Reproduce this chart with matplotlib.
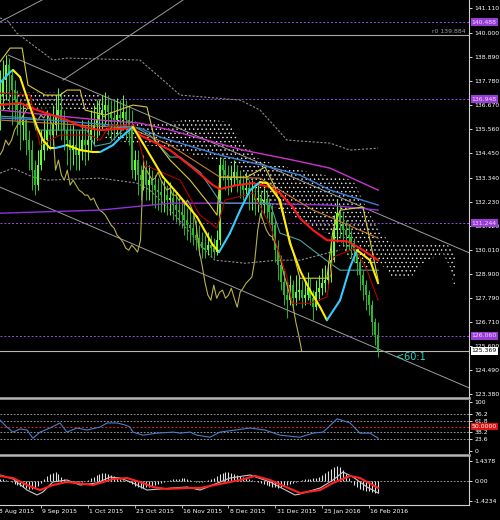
import numpy as np
import matplotlib
matplotlib.use("Agg")
import matplotlib.pyplot as plt
from matplotlib.lines import Line2D
from matplotlib.transforms import blended_transform_factory

# EURJPY daily, bar index 0 = 18 Aug 2015, first drawn bar = 2, last = 131
first_bar = 2
open_first = 136.44

close = [137.13, 137.82, 138.51, 138.05, 137.36,
         136.90, 136.44, 135.75, 135.98,
         135.06, 134.60, 133.68, 132.99,
         133.91, 134.60, 135.06, 135.52,
         135.29, 135.75, 136.21, 136.44,
         135.98, 135.52, 135.06, 134.60,
         134.83, 134.37, 134.60, 135.06, 134.83,
         135.06, 135.52, 135.75, 135.98, 136.21,
         136.44, 136.67, 136.35, 136.07, 135.98,
         136.21, 136.07, 136.35, 135.98, 135.75,
         133.68,
         134.14, 133.45, 133.22, 133.68, 132.99,
         133.22, 132.99, 132.76, 132.67, 132.53,
         132.53, 132.30, 132.39, 132.07, 131.84,
         131.75, 131.61, 131.38, 131.15, 131.01,
         130.69, 130.55, 130.37, 130.09, 130.00,
         130.23, 130.09, 129.91, 130.46,
         133.91,
         133.68, 133.45, 133.22, 133.31, 133.59,
         133.22, 132.99, 132.76, 132.85, 132.53,
         132.53, 132.30, 132.39, 132.07, 132.30,
         132.07, 131.75, 131.15, 130.00, 129.31,
         128.53, 127.93, 127.70, 128.39, 127.79,
         128.07, 128.16, 127.79, 127.93, 128.25,
         127.79, 127.38, 128.07, 128.25, 128.48,
         128.62, 128.76, 129.54, 130.92, 131.70,
         131.29, 130.92, 130.69, 130.60, 130.32,
         130.00, 129.45, 128.85, 128.39, 127.93,
         127.47, 126.69, 126.09, 125.369]

high = [138.28, 138.74, 138.97, 138.83, 138.28,
        137.82, 137.36, 136.90, 136.67,
        135.98, 135.52, 135.06, 134.14,
        134.60, 135.52, 135.98, 136.44,
        136.21, 136.67, 137.13, 137.45,
        137.27, 136.44, 135.98, 135.75,
        135.75, 135.52, 135.52, 135.98, 135.75,
        135.98, 136.44, 136.67, 136.90, 136.90,
        137.13, 137.27, 137.13, 136.90, 136.90,
        136.99, 136.90, 137.13, 136.90, 136.67,
        136.44,
        134.60, 134.60, 133.91, 134.37, 134.14,
        133.91, 133.68, 133.45, 133.31, 133.22,
        133.22, 132.99, 133.13, 132.85, 132.67,
        132.53, 132.39, 132.30, 131.93, 131.84,
        131.61, 131.38, 131.15, 130.83, 130.69,
        130.83, 130.69, 130.55, 130.92,
        134.28,
        134.23, 134.14, 133.91, 133.91, 134.14,
        133.91, 133.68, 133.45, 133.59, 133.22,
        133.22, 132.99, 132.99, 132.76, 132.85,
        132.76, 132.39, 132.07, 131.38, 130.46,
        129.77, 129.08, 128.62, 128.85, 128.62,
        128.85, 128.85, 128.62, 128.62, 128.99,
        128.71, 128.16, 128.62, 128.85, 129.17,
        129.31, 129.45, 130.46, 131.61, 132.30,
        132.07, 131.75, 131.38, 131.15, 130.92,
        130.55, 130.09, 129.63, 129.08, 128.62,
        128.16, 127.70, 126.87, 126.69]

low = [135.52, 136.44, 136.90, 136.44, 135.75,
       135.98, 135.29, 134.60, 135.06,
       134.37, 133.68, 132.76, 132.53,
       132.76, 133.68, 134.14, 134.60,
       134.60, 134.83, 135.29, 135.52,
       135.06, 134.60, 133.91, 133.68,
       133.91, 133.68, 133.68, 134.14, 133.91,
       134.14, 134.60, 134.83, 135.06, 135.29,
       135.52, 135.75, 135.29, 135.06, 135.06,
       135.29, 135.15, 135.52, 135.06, 134.83,
       133.31,
       133.22, 132.53, 132.30, 132.76, 132.30,
       132.30, 132.07, 131.93, 131.84, 131.75,
       131.75, 131.61, 131.61, 131.38, 131.29,
       131.15, 131.01, 130.69, 130.46, 130.37,
       130.23, 130.00, 129.77, 129.63, 129.63,
       129.77, 129.68, 129.63, 129.77,
       130.23,
       133.22, 132.76, 132.53, 132.67, 132.99,
       132.67, 132.39, 132.30, 132.39, 131.84,
       131.84, 131.61, 131.75, 131.47, 131.61,
       131.47, 131.15, 130.46, 129.45, 128.62,
       128.16, 127.47, 126.87, 127.47, 127.33,
       127.47, 127.70, 127.33, 127.47, 127.70,
       127.47, 126.78, 127.24, 127.70, 127.93,
       128.07, 128.25, 128.53, 129.45, 130.46,
       130.55, 130.23, 130.00, 130.00, 129.63,
       129.45, 128.85, 128.16, 127.70, 127.24,
       127.01, 126.09, 125.63, 125.08]

# indicator lines: (bar, price) vertices
fast_ma_x = [2.0, 5.5, 6.5, 8.9, 12.3, 14.7, 16.7, 19.1, 20.8, 24.9,
             29.4, 33.8, 36.2, 40.6, 43.0, 47.4, 50.8, 57.7, 62.5, 69.3,
             74.7, 76.8, 80.5, 84.0, 87.4, 90.8, 93.2, 97.6, 101.0, 104.4,
             107.8, 111.3, 113.6, 118.1, 121.5, 123.9, 128.3, 131.1]
fast_ma_y = [137.68, 138.19, 138.28, 137.96, 136.58, 135.66, 135.06, 134.69, 134.69, 134.83,
             134.60, 134.51, 134.51, 134.83, 135.15, 135.66, 134.92, 133.36, 132.62, 131.52,
             130.23, 129.91, 130.78, 131.84, 132.76, 133.13, 133.08, 132.30, 130.32, 129.08,
             128.16, 127.38, 126.78, 127.70, 129.22, 130.00, 129.54, 128.48]

slow_ma_x = [2.0, 8.9, 14.7, 24.9, 30.4, 36.2, 47.4, 49.8, 60.1, 67.9,
             74.7, 77.1, 82.9, 88.4, 94.2, 97.6, 102.0, 104.4, 108.9, 113.6,
             120.5, 124.9, 131.1]
slow_ma_y = [136.67, 136.76, 136.44, 135.98, 135.66, 135.52, 135.61, 135.29, 134.60, 133.77,
             132.99, 132.81, 132.99, 133.08, 132.90, 132.62, 131.98, 131.47, 130.92, 130.46,
             130.41, 130.09, 129.54]

blue_x = [2.0, 19.1, 36.2, 49.8, 56.7, 77.1, 94.2, 104.4, 114.7, 131.1]
blue_y = [136.07, 135.98, 135.80, 135.61, 135.20, 134.37, 133.82, 133.45, 132.76, 132.07]

magenta_x = [2.0, 19.1, 36.2, 49.8, 60.1, 85.0, 102.0, 114.7, 131.1]
magenta_y = [136.44, 136.21, 135.98, 135.84, 135.52, 134.60, 134.14, 133.77, 132.76]

violet_x = [2.0, 36.2, 60.1, 87.4, 114.7, 131.1]
violet_y = [131.70, 131.84, 132.16, 132.16, 132.07, 131.84]

orange_x = [2.0, 29.4, 46.4, 60.1, 77.1, 90.8, 108.9, 114.7, 131.1]
orange_y = [135.98, 135.75, 135.61, 134.83, 133.36, 133.31, 131.84, 131.52, 130.55]

kijun_x = [2.0, 13.3, 14.3, 31.7, 34.5, 39.6, 44.7, 48.1, 53.2, 60.1,
           63.5, 70.3, 76.1, 77.8, 94.2, 97.6, 104.4, 114.7, 118.1, 131.1]
kijun_y = [136.16, 136.07, 135.52, 135.52, 134.78, 134.92, 135.66, 135.66, 135.29, 134.28,
           134.28, 133.59, 132.44, 132.16, 132.16, 130.78, 130.46, 129.40, 129.08, 129.08]

darkred_x = [2.0, 12.3, 15.7, 22.5, 32.8, 36.2, 39.6, 48.1, 51.5, 63.5,
             70.3, 76.1, 78.8, 88.4, 94.2, 100.0, 101.7, 107.8, 113.6, 115.7,
             123.2, 127.3, 131.1]
darkred_y = [137.22, 137.13, 134.83, 135.29, 135.29, 135.06, 135.75, 135.75, 133.91, 133.22,
             131.61, 131.01, 132.30, 132.62, 131.15, 128.76, 127.56, 127.56, 127.84, 129.68,
             130.09, 129.08, 127.70]

tenkan_x = [2.0, 5.5, 9.6, 11.6, 17.4, 22.5, 24.9, 29.4, 31.1, 37.9,
            47.4, 52.2, 54.9, 60.1, 66.9, 73.7, 76.1, 77.1, 86.3, 92.5,
            95.9, 101.0, 104.4, 113.6, 115.7, 118.1, 125.9, 128.3, 131.1]
tenkan_y = [138.65, 139.29, 139.29, 137.59, 137.13, 137.13, 137.36, 137.36, 136.44, 136.21,
            136.67, 136.58, 135.06, 134.14, 133.22, 132.07, 131.61, 133.36, 133.36, 133.82,
            132.90, 130.46, 128.71, 128.71, 130.92, 131.84, 131.98, 130.46, 128.62]
chikou_shift = 26

env_up_x = [2.0, 4.4, 7.8, 20.1, 24.9, 49.8, 57.7, 63.5, 84.0, 90.8, 100.0, 114.7, 121.5, 131.1]
env_up_y = [140.67, 140.58, 139.98, 138.74, 138.83, 138.74, 137.82, 137.13, 136.90, 136.44,
            135.06, 134.92, 134.60, 134.69]
env_dn_x = [2.0, 6.5, 13.3, 18.1, 36.2, 48.8, 53.2, 61.8, 72.0, 75.4, 85.7, 96.6, 104.4, 113.6, 118.1]
env_dn_y = [133.54, 133.77, 133.36, 133.22, 133.31, 133.08, 132.76, 131.61, 130.00, 129.54,
            129.40, 129.54, 129.54, 129.86, 130.00]

cloud_x = [2.0, 19.1, 36.2, 37.9, 49.8, 60.1, 70.3, 80.5, 84.0, 90.8, 104.4,
           114.7, 122.5, 126.6, 131.7, 136.2, 142.0, 146.4, 153.2, 155.6, 157.3]
cloud_hi = [137.27, 137.27, 137.18, 136.07, 135.89, 135.89, 136.07, 135.89, 135.06, 134.14, 133.68,
            133.40, 133.22, 132.07, 130.78, 130.32, 130.32, 130.32, 130.32, 130.18, 129.77]
cloud_lo = [136.44, 136.53, 136.44, 135.15, 134.83, 134.74, 134.28, 134.05, 133.77, 132.30, 131.38,
            130.69, 129.45, 129.17, 129.45, 128.71, 128.71, 129.40, 129.86, 129.22, 128.16]

chan_up_x, chan_up_y = [4.8, 162.5], [138.97, 129.86]
chan_dn_x, chan_dn_y = [2.0, 162.5], [132.90, 123.65]
fan1_x, fan1_y = [23.5, 64.5], [137.82, 141.50]
fan2_x, fan2_y = [2.0, 16.4], [140.49, 141.50]

levels = [140.488, 136.948, 131.244, 126.060]
r0_level = 139.884
last_price = 125.369
price_ticks = [141.110, 140.000, 138.890, 137.780, 136.670, 135.560, 134.450, 133.340,
               132.230, 131.120, 130.010, 128.900, 127.790, 126.710, 125.600, 124.490, 123.380]

rsi_x = [2.0, 4.4, 6.5, 8.9, 11.3, 13.3, 15.7, 19.1, 22.5, 24.9,
         28.3, 31.7, 36.2, 38.6, 42.0, 44.7, 46.4, 47.4, 50.8, 55.6,
         61.1, 63.5, 66.9, 69.3, 73.7, 77.1, 82.3, 87.4, 92.5, 97.6,
         104.4, 108.9, 112.3, 117.1, 121.5, 124.9, 128.3, 131.1]
rsi_y = [63.8, 48.9, 38.3, 45.0, 42.6, 25.5, 38.3, 46.8, 57.4, 38.3,
         46.8, 42.6, 48.9, 57.4, 57.4, 53.2, 48.9, 38.3, 31.9, 36.2,
         38.3, 36.2, 38.3, 31.9, 27.7, 38.3, 42.6, 46.8, 42.6, 31.9,
         27.7, 36.2, 38.3, 66.0, 57.4, 36.2, 36.2, 25.5]
rsi_levels = [76.2, 61.8, 38.2, 23.6]
rsi_ticks = [100, 76.2, 61.8, 38.2, 23.6, 0]

macd_x = [2.0, 6.5, 11.3, 14.7, 16.7, 20.1, 24.9, 29.4, 35.2, 39.6,
          43.0, 47.4, 52.2, 56.7, 61.1, 65.9, 70.3, 80.5, 87.4, 94.2,
          102.7, 104.4, 111.3, 115.7, 119.1, 122.5, 127.3, 131.1]
macd_y = [0.41, 0.12, -0.67, -1.02, -0.81, -0.09, 0.05, -0.31, -0.16, 0.26,
          0.19, -0.16, -0.67, -0.59, -0.52, -0.45, -0.67, 0.19, 0.41, -0.09,
          -1.02, -0.95, -0.52, 0.05, 0.62, 0.26, -0.45, -0.88]
signal_x = [2.0, 6.5, 11.3, 15.7, 20.1, 24.9, 33.8, 40.6, 45.4, 49.8,
            54.3, 59.0, 65.9, 70.3, 84.0, 89.1, 94.2, 104.4, 111.3, 115.7,
            121.5, 124.9, 131.1]
signal_y = [0.34, 0.19, -0.31, -0.67, -0.31, -0.09, -0.31, 0.12, 0.19, -0.09,
            -0.45, -0.59, -0.52, -0.52, 0.05, 0.34, 0.05, -0.88, -0.67, -0.16,
            0.34, 0.19, -0.52]
hist = [0.14, 0.14, 0.07, 0.0, -0.07,
        -0.21, -0.29, -0.36, -0.43, -0.50, -0.57, -0.57, -0.50,
        -0.36, -0.14, 0.14, 0.36, 0.50, 0.57, 0.64, 0.50,
        0.29, 0.14, 0.0, -0.07, -0.14, -0.14, -0.07, -0.07,
        0.0, 0.07, 0.21, 0.29, 0.43, 0.50, 0.57, 0.57,
        0.50, 0.43, 0.36, 0.29, 0.14, 0.07, 0.0, -0.07,
        -0.21, -0.36, -0.43, -0.50, -0.50, -0.43, -0.43, -0.36,
        -0.29, -0.21, -0.14, -0.07, 0.0, 0.07, 0.14, 0.14,
        0.14, 0.21, 0.21, 0.14, 0.07, 0.0, -0.07, -0.07,
        -0.07, 0.0, 0.07, 0.14, 0.21, 0.36, 0.50, 0.57,
        0.64, 0.64, 0.57, 0.50, 0.43, 0.36, 0.29, 0.21,
        0.14, 0.07, 0.0, -0.07, -0.14, -0.21, -0.29, -0.36,
        -0.43, -0.43, -0.50, -0.43, -0.36, -0.29, -0.21, -0.14,
        -0.07, 0.0, 0.07, 0.14, 0.14, 0.14, 0.21, 0.21,
        0.29, 0.43, 0.57, 0.72, 0.86, 1.00, 1.07, 1.00,
        0.79, 0.50, 0.21, -0.07, -0.29, -0.43, -0.57, -0.64,
        -0.72, -0.72, -0.79, -0.86, -0.86]
macd_top, macd_bot = 1.4378, -1.4234

date_bars = [0, 16, 32, 48, 64, 80, 96, 112, 128]
date_labels = ["18 Aug 2015", "9 Sep 2015", "1 Oct 2015", "23 Oct 2015", "16 Nov 2015",
               "8 Dec 2015", "31 Dec 2015", "25 Jan 2016", "16 Feb 2016"]

FS = 4.4
W, H = 500, 520
plot_w = 469 / W

plt.rcParams["hatch.linewidth"] = 0.5

fig = plt.figure(figsize=(5, 5.2), dpi=100, facecolor="black")
ax = fig.add_axes([0, 1 - 397 / H, plot_w, 397 / H])
ax_rsi = fig.add_axes([0, 1 - 453 / H, plot_w, 53 / H])
ax_macd = fig.add_axes([0, 1 - 505 / H, plot_w, 49 / H])

for a in (ax, ax_rsi, ax_macd):
    a.set_facecolor("black")
    a.set_xlim(2.05, 162.1)
    for s in ("top", "left", "bottom"):
        a.spines[s].set_visible(False)
    a.spines["right"].set_color("#d0d0d0")
    a.spines["right"].set_linewidth(0.8)
    a.yaxis.tick_right()
    a.tick_params(axis="y", colors="white", labelsize=FS, length=2.2, width=0.6, pad=1.5)
    a.tick_params(axis="x", bottom=False, labelbottom=False)

# ---- main price panel ----
ax.set_ylim(123.25, 141.50)
ax.set_yticks(price_ticks)
ax.set_yticklabels([f"{v:.3f}" for v in price_ticks])

# ichimoku cloud, dotted like the terminal draws it
ax.fill_between(cloud_x, cloud_lo, cloud_hi, facecolor="none", edgecolor="#f0e8e8",
                hatch="....", linewidth=0, zorder=1)

for lv in levels:
    ax.axhline(lv, color="#9a4de0", lw=0.7, ls=(0, (2, 2)), zorder=1)
ax.axhline(r0_level, color="#a8a8a8", lw=0.8, zorder=1)
ax.axhline(last_price, color="#b8b8b8", lw=0.8, zorder=1)

grey = "#9c9c9c"
ax.plot(chan_up_x, chan_up_y, color=grey, lw=0.7, zorder=2)
ax.plot(chan_dn_x, chan_dn_y, color=grey, lw=0.7, zorder=2)
ax.plot(fan1_x, fan1_y, color=grey, lw=0.7, zorder=2)
ax.plot(fan2_x, fan2_y, color=grey, lw=0.7, zorder=2)
ax.plot(env_up_x, env_up_y, color="#8c8c8c", lw=0.8, ls=(0, (2, 1.5)), zorder=2)
ax.plot(env_dn_x, env_dn_y, color="#8c8c8c", lw=0.8, ls=(0, (2, 1.5)), zorder=2)

# candles
bars = np.arange(first_bar, first_bar + len(close))
c = np.array(close)
o = np.concatenate([[open_first], c[:-1]])
up = c >= o
cols = np.where(up, "#66ff33", "#2cb82c")
ax.vlines(bars, low, high, colors=cols, lw=0.7, zorder=3)
ax.vlines(bars, np.minimum(o, c), np.maximum(o, c), colors=cols, lw=1.5, zorder=3)

# thin indicator lines
ax.plot(bars - chikou_shift, close, color="#b8b04c", lw=0.8, zorder=4)
ax.plot(violet_x, violet_y, color="#8f32d8", lw=1.0, zorder=4)
ax.plot(magenta_x, magenta_y, color="#cc33cc", lw=1.0, zorder=4)
ax.plot(blue_x, blue_y, color="#3a7fd5", lw=1.0, zorder=4)
ax.plot(orange_x, orange_y, color="#c8782e", lw=0.8, zorder=4)
ax.plot(kijun_x, kijun_y, color="#4aa0a0", lw=0.8, zorder=4)
ax.plot(darkred_x, darkred_y, color="#b40000", lw=0.8, zorder=4)
ax.plot(tenkan_x, tenkan_y, color="#d8c840", lw=0.8, zorder=4)

# thick averages
ax.plot(slow_ma_x, slow_ma_y, color="#ff1a1a", lw=1.5, zorder=5)
for i in range(len(fast_ma_x) - 1):
    colr = "#33ccff" if fast_ma_y[i + 1] > fast_ma_y[i] else "#ffee00"
    ax.plot(fast_ma_x[i:i + 2], fast_ma_y[i:i + 2], color=colr, lw=1.5,
            solid_capstyle="round", zorder=6)

tr = blended_transform_factory(ax.transAxes, ax.transData)
for lv in levels:
    ax.text(1.006, lv, f"{lv:.3f}", transform=tr, ha="left", va="center", fontsize=FS,
            color="#f0d8ff", clip_on=False, zorder=10,
            bbox=dict(boxstyle="square,pad=0.2", fc="#9a3cd8", ec="none"))
ax.text(1.006, last_price, f"{last_price:.3f}", transform=tr, ha="left", va="center",
        fontsize=FS, color="black", clip_on=False, zorder=10,
        bbox=dict(boxstyle="square,pad=0.2", fc="white", ec="none"))
ax.text(0.993, r0_level + 0.05, f"r0 {r0_level:.3f}", transform=tr, ha="right", va="bottom",
        fontsize=FS, color="#a0a0a0")
ax.text(137.3, 125.1, "<60:1", ha="left", va="center", fontsize=7, color="#28d8c4",
        zorder=10)

# ---- RSI panel ----
ax_rsi.set_ylim(-5.2, 105.2)
ax_rsi.set_yticks(rsi_ticks)
ax_rsi.set_yticklabels([f"{v:g}" for v in rsi_ticks])
for lv in rsi_levels:
    ax_rsi.axhline(lv, color="#b0b0b0", lw=0.6, ls=(0, (2, 2)))
ax_rsi.axhline(50, color="#e02020", lw=0.7, ls=(0, (2, 2)))
ax_rsi.plot(rsi_x, rsi_y, color="#4a7fc8", lw=0.8)
ax_rsi.text(1.006, 50, "50.0000", transform=blended_transform_factory(ax_rsi.transAxes, ax_rsi.transData),
            ha="left", va="center", fontsize=FS, color="white", clip_on=False, zorder=10,
            bbox=dict(boxstyle="square,pad=0.2", fc="#e01010", ec="none"))

# ---- MACD panel ----
ax_macd.set_ylim(-1.738, 1.767)
ax_macd.set_yticks([macd_top, 0, macd_bot])
ax_macd.set_yticklabels([f"{macd_top:.4f}", "0.00", f"{macd_bot:.4f}"])
ax_macd.axhline(0, color="#b0b0b0", lw=0.6, ls=(0, (2, 2)))
ax_macd.vlines(bars, 0, hist, colors="#e0e0e0", lw=0.8)
ax_macd.plot(macd_x, macd_y, color="#c8c8c8", lw=0.8)
ax_macd.plot(signal_x, signal_y, color="#ff2020", lw=1.5)
ax_macd.spines["bottom"].set_visible(True)
ax_macd.spines["bottom"].set_color("#d0d0d0")
ax_macd.spines["bottom"].set_linewidth(0.8)
ax_macd.set_xticks([b for b in date_bars if b > 2.05])
ax_macd.tick_params(axis="x", bottom=True, labelbottom=False, colors="#d0d0d0",
                    length=2.2, width=0.6)
for b, lbl in zip(date_bars, date_labels):
    ax_macd.annotate(lbl, xy=(b, 0), xycoords=("data", "axes fraction"), xytext=(1, -5),
                     textcoords="offset points", ha="left", va="center", fontsize=FS,
                     color="white", annotation_clip=False)

# panel separators
for ypx in (398, 454.5):
    fig.add_artist(Line2D([0, plot_w], [1 - ypx / H] * 2, color="#b4b4b4", lw=1.8,
                          transform=fig.transFigure))

fig.savefig("out.png", dpi=100, facecolor="black")
